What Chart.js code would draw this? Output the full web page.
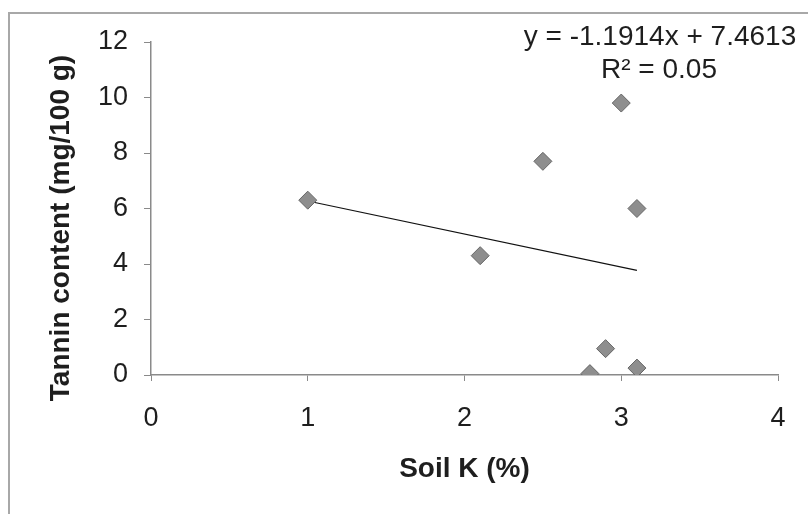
<!DOCTYPE html>
<html>
<head>
<meta charset="utf-8">
<script src="https://cdn.jsdelivr.net/npm/chart.js@4/dist/chart.umd.min.js"></script>
<style>
  html, body { margin: 0; padding: 0; background: #ffffff; overflow: hidden; }
  #wrap { position: relative; width: 808px; height: 514px; overflow: hidden; }
  #frame { position: absolute; left: 8px; top: 12px; width: 900px; height: 600px;
           border-top: 2px solid #a8a8a8; border-left: 2px solid #a8a8a8; }
  canvas { position: absolute; left: 0; top: 0; }
</style>
</head>
<body>
<div id="wrap">
  <div id="frame"></div>
  <canvas id="c" width="808" height="514"></canvas>
</div>
<script>
// Data
const soilK  = [1.0, 2.1, 2.5, 3.0, 3.1, 2.9, 2.8, 3.1];
const tannin = [6.3, 4.3, 7.7, 9.8, 6.0, 0.95, 0.05, 0.25];

// Linear trendline endpoints (as drawn) and its label
const trendX = [1.0, 3.1];
const trendY = [6.27, 3.77];
const equationText = 'y = -1.1914x + 7.4613';
const r2Text = 'R\u00B2 = 0.05';

const xTitle = 'Soil K (%)';
const yTitle = 'Tannin content (mg/100 g)';
const xTicks = [0, 1, 2, 3, 4];
const yTicks = [0, 2, 4, 6, 8, 10, 12];

const FONT = "'Liberation Sans', Arial, sans-serif";

const overlay = {
  id: 'overlay',
  afterDraw(chart) {
    const ctx = chart.ctx;
    ctx.save();
    ctx.fillStyle = '#1e1e1e';
    // y-axis title
    ctx.font = 'bold 28px ' + FONT;
    ctx.textAlign = 'center';
    ctx.textBaseline = 'middle';
    ctx.translate(61, 228);
    ctx.rotate(-Math.PI / 2);
    ctx.fillText(yTitle, 0, 0);
    ctx.restore();

    ctx.save();
    ctx.fillStyle = '#1e1e1e';
    ctx.font = '28px ' + FONT;
    ctx.textAlign = 'center';
    ctx.textBaseline = 'middle';
    ctx.fillText(equationText, 660, 37);
    ctx.fillText(r2Text, 659, 70);
    ctx.restore();
  }
};

new Chart(document.getElementById('c'), {
  type: 'scatter',
  data: {
    datasets: [
      {
        label: 'Tannin',
        data: soilK.map((x, i) => ({ x: x, y: tannin[i] })),
        pointStyle: 'rectRot',
        pointRadius: 9,
        pointHoverRadius: 9,
        backgroundColor: '#8e8e8e',
        borderColor: '#666666',
        borderWidth: 1,
        order: 1
      },
      {
        label: 'Linear',
        type: 'line',
        data: trendX.map((x, i) => ({ x: x, y: trendY[i] })),
        borderColor: '#111111',
        borderWidth: 1.2,
        pointRadius: 0,
        fill: false,
        order: 2
      }
    ]
  },
  options: {
    responsive: false,
    animation: false,
    events: [],
    layout: { padding: { left: 45, top: 42, right: 30, bottom: 28 } },
    plugins: { legend: { display: false }, tooltip: { enabled: false } },
    scales: {
      x: {
        type: 'linear',
        min: 0, max: 4,
        afterBuildTicks(axis) { axis.ticks = xTicks.map(v => ({ value: v })); },
        afterFit(axis) { axis.height = 111; },
        border: { display: true, color: '#8a8a8a', width: 1.5 },
        grid: { display: true, drawOnChartArea: false, drawTicks: true, tickLength: 6, color: '#8a8a8a' },
        ticks: { color: '#1e1e1e', font: { family: FONT, size: 27 }, padding: 21, maxRotation: 0 },
        title: { display: true, text: xTitle, color: '#1e1e1e', padding: 0,
                 font: { family: FONT, size: 28, weight: 'bold', lineHeight: 1.2 } }
      },
      y: {
        type: 'linear',
        min: 0, max: 12,
        afterBuildTicks(axis) { axis.ticks = yTicks.map(v => ({ value: v })); },
        afterFit(axis) { axis.width = 106; },
        border: { display: true, color: '#8a8a8a', width: 1.5 },
        grid: { display: true, drawOnChartArea: false, drawTicks: true, tickLength: 7, color: '#8a8a8a' },
        ticks: { color: '#1e1e1e', font: { family: FONT, size: 27 }, padding: 16 }
      }
    }
  },
  plugins: [overlay]
});
</script>
</body>
</html>
